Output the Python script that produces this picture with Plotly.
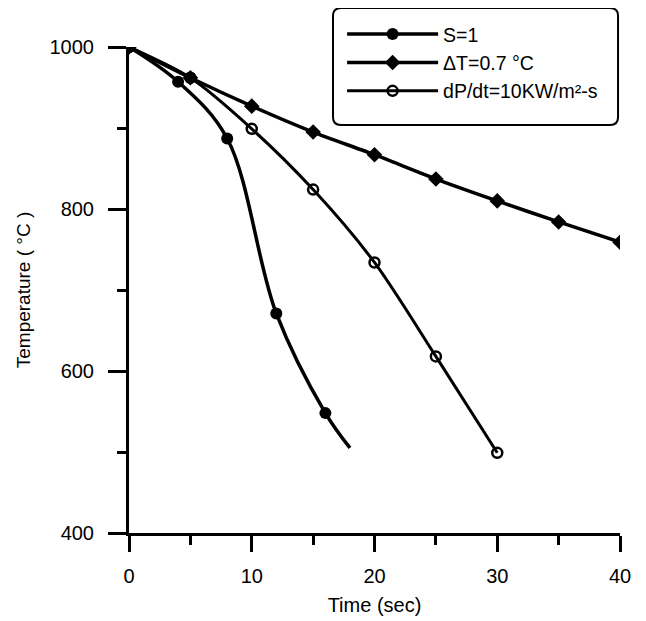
import plotly.graph_objects as go

# Data
s1_time = [0, 4, 8, 12, 16, 18]
s1_temp = [1000, 957, 887, 671, 548, 505]
# the final point (end of the curve) has no visible marker
s1_symbols = ["circle", "circle", "circle", "circle", "circle", "line-ew"]

dt_time = [0, 5, 10, 15, 20, 25, 30, 35, 40]
dt_temp = [1000, 962, 927, 895, 867, 837, 810, 784, 759]

dp_time = [0, 5, 10, 15, 20, 25, 30]
dp_temp = [1000, 962, 899, 824, 734, 618, 499]

names = ["S=1", "\u0394T=0.7 \u00b0C", "dP/dt=10KW/m\u00b2-s"]

x_ticks = [0, 10, 20, 30, 40]
y_ticks = [400, 600, 800, 1000]

FONT = "Liberation Sans, Arial, sans-serif"

fig = go.Figure()
fig.add_trace(go.Scatter(
    x=s1_time, y=s1_temp, name=names[0], mode="lines+markers", legendgroup="a",
    line=dict(color="black", width=3.5, shape="spline", smoothing=1.0),
    marker=dict(symbol=s1_symbols, size=12, color="black", line=dict(width=0)),
))
fig.add_trace(go.Scatter(
    x=dt_time, y=dt_temp, name=names[1], mode="lines+markers", legendgroup="b",
    line=dict(color="black", width=3.5, shape="spline", smoothing=0.6),
    marker=dict(symbol="diamond", size=12, color="black"),
))
fig.add_trace(go.Scatter(
    x=dp_time, y=dp_temp, name=names[2], mode="lines+markers", legendgroup="c",
    line=dict(color="black", width=3, shape="spline", smoothing=0.8),
    marker=dict(symbol="circle-open", size=10, color="black", line=dict(width=2.5, color="black")),
))

# rounded legend frame (paper coordinates)
x0, x1, y0, y1 = 0.4155, 0.996, 0.8395, 1.080
rx, ry = 0.016, 0.016
frame = (f"M {x0+rx} {y1} L {x1-rx} {y1} Q {x1} {y1} {x1} {y1-ry} "
         f"L {x1} {y0+ry} Q {x1} {y0} {x1-rx} {y0} L {x0+rx} {y0} "
         f"Q {x0} {y0} {x0} {y0+ry} L {x0} {y1-ry} Q {x0} {y1} {x0+rx} {y1} Z")

fig.update_layout(
    width=638, height=613,
    margin=dict(l=121, r=26, t=39, b=88, autoexpand=False),
    paper_bgcolor="white", plot_bgcolor="white",
    font=dict(family=FONT, color="black", size=20),
    showlegend=True,
    legend=dict(
        x=0.434, y=1.066, xanchor="left", yanchor="top",
        bgcolor="rgba(0,0,0,0)", borderwidth=0, traceorder="grouped",
        font=dict(size=19.5, family=FONT), tracegroupgap=0,
        itemwidth=91,
    ),
    shapes=[dict(
        type="path", xref="paper", yref="paper", path=frame,
        line=dict(color="black", width=2), fillcolor="white", layer="below",
    )],
    xaxis=dict(
        range=[0, 40], tickvals=x_ticks, ticktext=[str(v) for v in x_ticks],
        showgrid=False, zeroline=False, showline=True, linecolor="black", linewidth=3,
        ticks="outside", ticklen=16, tickwidth=3, tickcolor="black", ticklabelstandoff=7,
        minor=dict(ticks="outside", ticklen=9, tickwidth=3, tickcolor="black", dtick=5, showgrid=False),
        tickfont=dict(size=20),
        title=dict(text="Time (sec)", font=dict(size=20), standoff=12),
    ),
    yaxis=dict(
        range=[400, 1000], tickvals=y_ticks, ticktext=[str(v) for v in y_ticks],
        showgrid=False, zeroline=False, showline=True, linecolor="black", linewidth=3,
        ticks="outside", ticklen=18, tickwidth=3, tickcolor="black", ticklabelstandoff=10,
        minor=dict(ticks="outside", ticklen=9, tickwidth=3, tickcolor="black", dtick=100, showgrid=False),
        tickfont=dict(size=20),
        title=dict(text="Temperature ( \u00b0C )", font=dict(size=19), standoff=14),
    ),
)

fig.write_html("out.html")
